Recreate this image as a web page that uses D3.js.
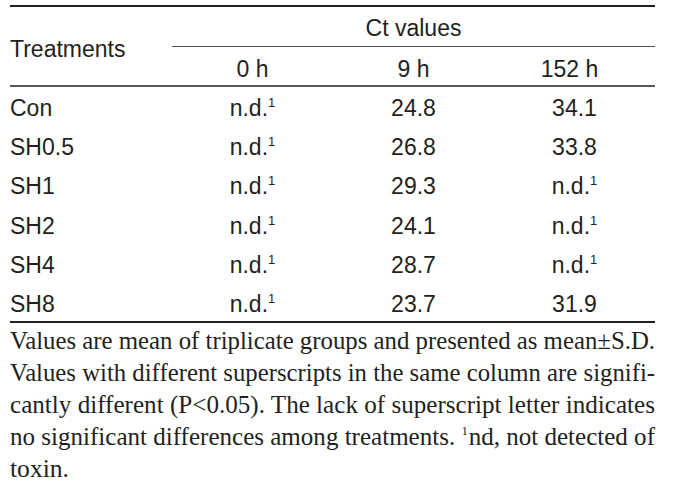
<!DOCTYPE html>
<html>
<head>
<meta charset="utf-8">
<script src="https://cdn.jsdelivr.net/npm/d3@7"></script>
<style>
  html, body { margin: 0; padding: 0; background: #fff; }
  svg { display: block; }
</style>
</head>
<body>
<svg id="chart" width="678" height="491"></svg>
<script>
// ---- data ----
const treatments = ["Con", "SH0.5", "SH1", "SH2", "SH4", "SH8"];
const hours = ["0 h", "9 h", "152 h"];
const groupTitle = "Ct values";
const rowTitle = "Treatments";
// null = not detected (n.d.¹)
const ct0h   = [null, null, null, null, null, null];
const ct9h   = [24.8, 26.8, 29.3, 24.1, 28.7, 23.7];
const ct152h = [34.1, 33.8, null, null, null, 31.9];
const footnoteLines = [
  ["Values are mean of triplicate groups and presented as mean±S.D."],
  ["Values with different superscripts in the same column are signifi-"],
  ["cantly different (P<0.05). The lack of superscript letter indicates"],
  ["no significant differences among treatments.", "1", "nd, not detected of"],
  ["toxin."]
];

// ---- layout ----
const svg = d3.select("#chart");
const left = 10, right = 655;
const sans = "'Liberation Sans', Arial, Helvetica, sans-serif";
const serif = "'Liberation Serif', 'Times New Roman', serif";
const textColor = "#231f20";

const x = d3.scaleBand().domain(hours).range([172, right]);
const y = d3.scalePoint().domain(treatments).range([116, 312]);
const columns = [ct0h, ct9h, ct152h];

// rules
function rule(x1, x2, yy, w, c) {
  svg.append("line").attr("x1", x1).attr("x2", x2).attr("y1", yy).attr("y2", yy)
    .attr("stroke", c || "#231f20").attr("stroke-width", w);
}
rule(left, right, 6, 2.2);
rule(172, right, 46.5, 1, "#555");
rule(left, right, 86, 1.4);
rule(left, right, 322, 2.2);

// header
svg.append("text").attr("x", left).attr("y", 57)
  .attr("font-family", sans).attr("font-size", 23).attr("fill", textColor)
  .text(rowTitle);
svg.append("text").attr("x", (172 + right) / 2).attr("y", 36)
  .attr("text-anchor", "middle")
  .attr("font-family", sans).attr("font-size", 23).attr("fill", textColor)
  .text(groupTitle);
svg.selectAll("text.hour").data(hours).join("text").attr("class", "hour")
  .attr("x", d => x(d) + x.bandwidth() / 2 - (d === "152 h" ? 5 : 0))
  .attr("y", 77)
  .attr("text-anchor", "middle")
  .attr("font-family", sans).attr("font-size", 23).attr("fill", textColor)
  .text(d => d);

// row labels
svg.selectAll("text.row").data(treatments).join("text").attr("class", "row")
  .attr("x", left).attr("y", d => y(d))
  .attr("font-family", sans).attr("font-size", 23).attr("fill", textColor)
  .text(d => d);

// cells
hours.forEach((h, ci) => {
  const vals = columns[ci];
  treatments.forEach((t, ri) => {
    const v = vals[ri];
    const tx = svg.append("text")
      .attr("x", x(h) + x.bandwidth() / 2)
      .attr("y", y(t))
      .attr("text-anchor", "middle")
      .attr("font-family", sans).attr("font-size", 23).attr("fill", textColor);
    if (v === null) {
      tx.append("tspan").text("n.d.");
      tx.append("tspan").attr("font-size", 13).attr("dy", -9).text("1");
    } else {
      tx.text(d3.format(".1f")(v));
    }
  });
});

// footnote (justified; superscript drawn as its own piece)
const fy = d3.scaleLinear().domain([0, 4]).range([349, 477]);
const fs = 25.5, supFs = 13;
footnoteLines.forEach((parts, i) => {
  const last = i === footnoteLines.length - 1;
  if (parts.length === 1) {
    const t = svg.append("text").attr("x", left).attr("y", fy(i))
      .attr("font-family", serif).attr("font-size", fs).attr("fill", textColor)
      .text(parts[0]);
    t.attr("textLength", last ? 59 : right - left).attr("lengthAdjust", "spacingAndGlyphs");
    return;
  }
  // parts: [before, superscript, after]
  const a = svg.append("text").attr("y", fy(i))
    .attr("font-family", serif).attr("font-size", fs).attr("fill", textColor).text(parts[0]);
  const s = svg.append("text").attr("y", fy(i) - 10)
    .attr("font-family", serif).attr("font-size", supFs).attr("fill", textColor).text(parts[1]);
  const b = svg.append("text").attr("y", fy(i))
    .attr("font-family", serif).attr("font-size", fs).attr("fill", textColor).text(parts[2]);
  const wa = a.node().getComputedTextLength();
  const ws = s.node().getComputedTextLength();
  const wb = b.node().getComputedTextLength();
  const space = fs * 0.25, gap = 0.8;
  const k = (right - left - gap) / (wa + space + ws + wb);
  const xa = left, la = wa * k;
  const xs = xa + la + space * k, ls = ws * k;
  const xb = xs + ls + gap, lb = right - xb;
  a.attr("x", xa).attr("textLength", la).attr("lengthAdjust", "spacingAndGlyphs");
  s.attr("x", xs).attr("textLength", ls).attr("lengthAdjust", "spacingAndGlyphs");
  b.attr("x", xb).attr("textLength", lb).attr("lengthAdjust", "spacingAndGlyphs");
});
</script>
</body>
</html>
